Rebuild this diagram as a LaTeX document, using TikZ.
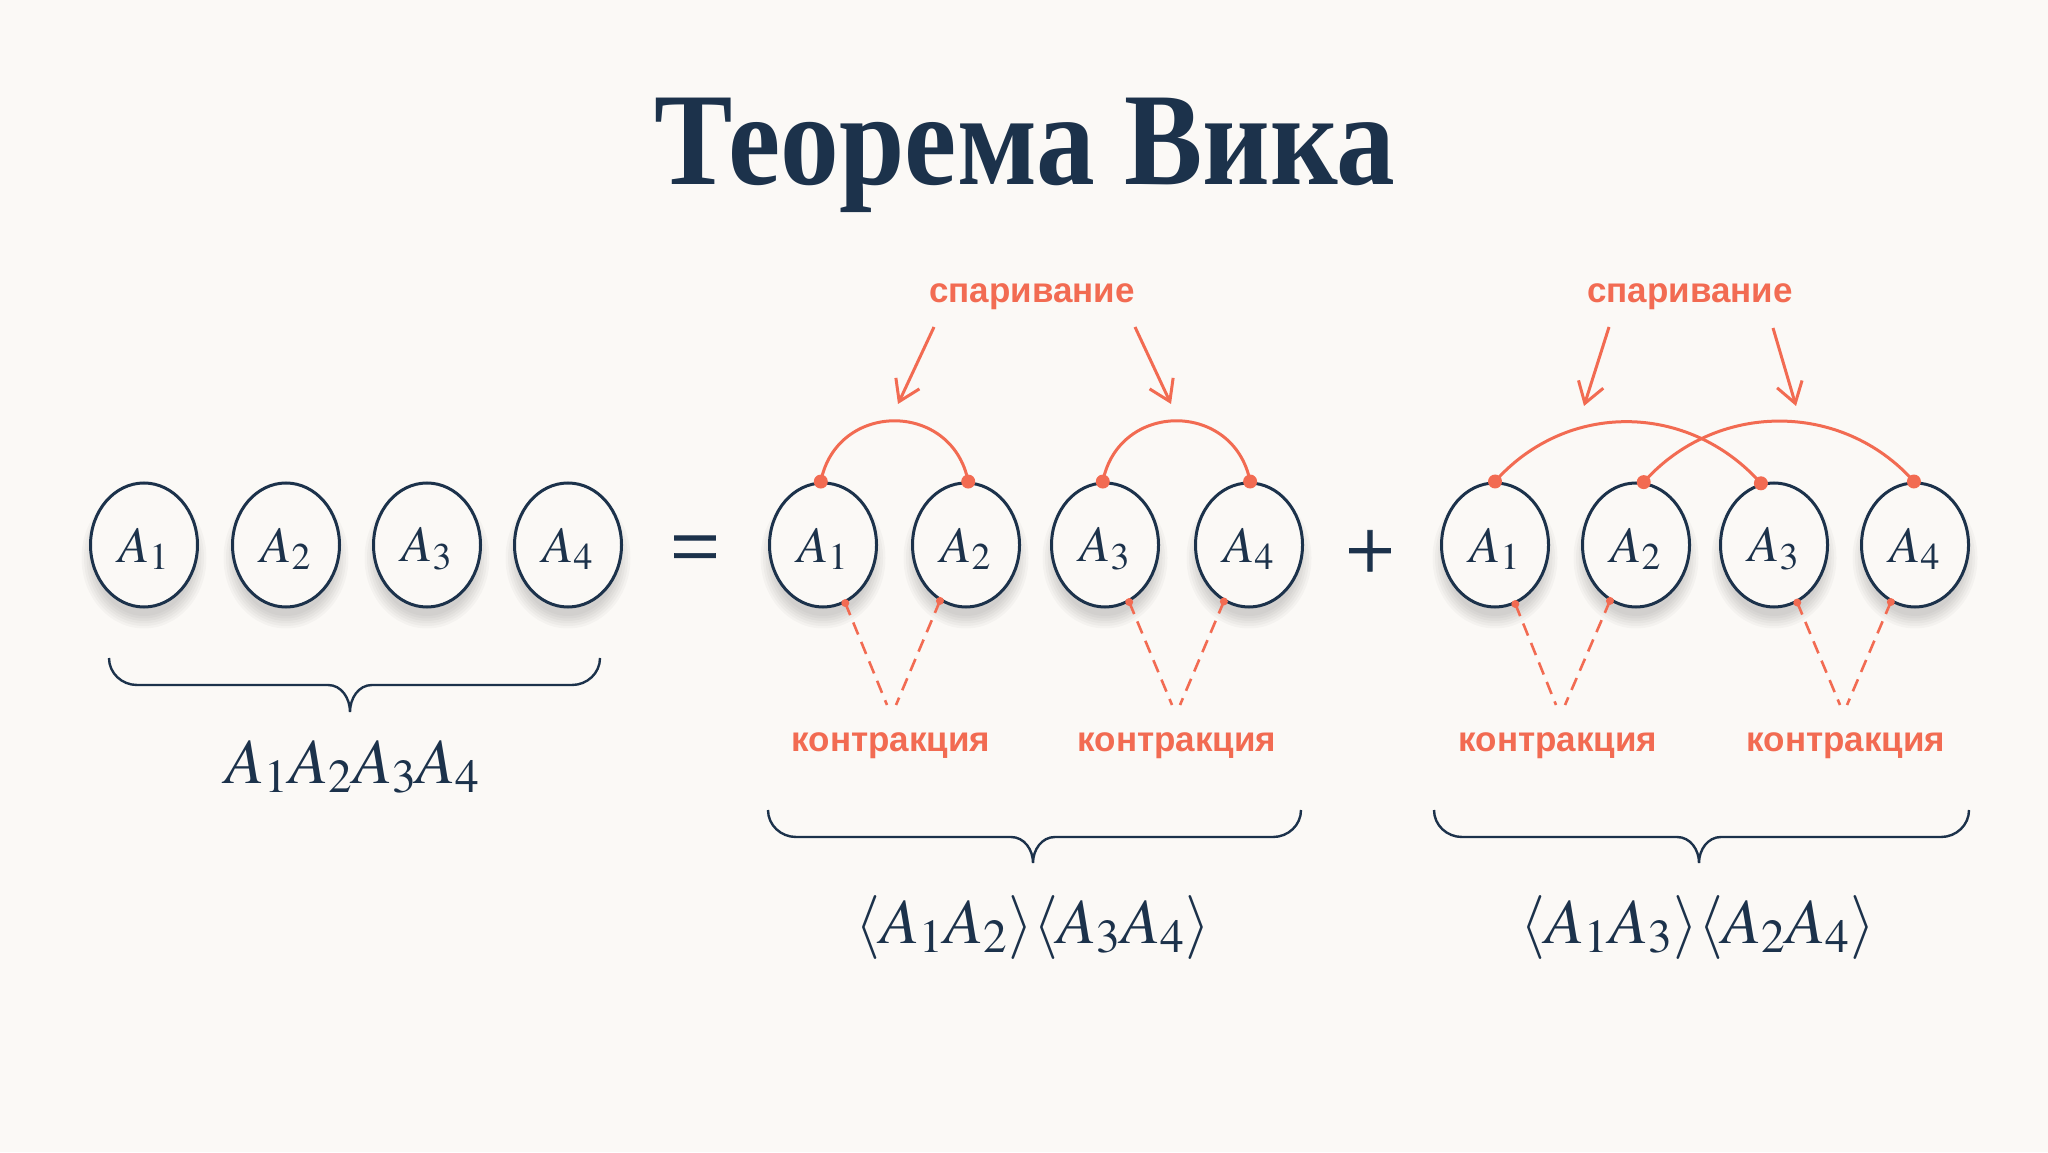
\documentclass[tikz,border=0pt]{standalone}
\usepackage{mathptmx}
\usepackage[no-math]{fontspec}
\setmainfont{Liberation Serif}
\newfontfamily\lblfont{Liberation Sans}
\newfontfamily\titlefont{Liberation Serif}[FakeStretch=0.89]
\newfontfamily\opfont{Liberation Serif}[FakeBold=0.8]
\usetikzlibrary{arrows.meta,shapes.geometric}
\definecolor{navy}{HTML}{1C324B}
\definecolor{coral}{HTML}{F26B52}
\definecolor{bg}{HTML}{FBF9F6}
\newcommand\wickbrace[6]{%
  \draw[brace] (#1,#4) to[out=-90,in=180] ({#1+28},#5) -- ({#2-22},#5)
    to[out=0,in=90] (#2,#6) to[out=90,in=180] ({#2+22},#5) -- ({#3-28},#5)
    to[out=0,in=-90] (#3,#4);}
\begin{document}
\begin{tikzpicture}[x=0.5pt,y=0.5pt,
  op/.style={ellipse, draw=navy, line width=1.5pt, fill=bg, minimum width=53.5pt,
    minimum height=62pt, inner sep=0pt, text=navy, font=\fontsize{25.5}{25.5}\selectfont},
  oplabel/.style={text=navy, font=\fontsize{25.5}{25.5}\selectfont, inner sep=0pt},
  pairarc/.style={coral, line width=1.5pt},
  pdot/.style={circle, fill=coral, inner sep=0pt, minimum size=7pt},
  cdot/.style={circle, fill=coral, inner sep=0pt, minimum size=4pt},
  contr/.style={coral, line width=1.3pt, dash pattern=on 6.5pt off 4pt},
  parr/.style={coral, line width=1.5pt, -{Straight Barb[length=10pt,width=13pt]}},
  lbl/.style={text=coral, font=\lblfont\bfseries\fontsize{17.5}{20}\selectfont, anchor=base, inner sep=0pt},
  brace/.style={navy, line width=1.2pt},
  mathlbl/.style={text=navy, font=\fontsize{32}{32}\selectfont, anchor=base, inner sep=0pt},
  opsign/.style={text=navy, font=\opfont\fontsize{44}{44}\selectfont, inner sep=0pt},
]
\fill[bg] (0,0) rectangle (2048,1152);
\useasboundingbox (0,0) rectangle (2048,1152);

% title
\node[anchor=base, text=navy, font=\titlefont\bfseries\fontsize{66}{66}\selectfont, inner sep=0pt]
  (title) at (1025,967) {Теорема Вика};

% shadows
\foreach \cx in {144,286,427,568,823,966,1105,1249,1495,1636,1774,1915}{
  \foreach \k in {0,...,5}{
    \fill[black,opacity=0.028] (\cx,594) ellipse ({50+\k*2.5} and {58+\k*2.5});
  }
}

% operators
\node[op] (l1) at (144,607) {};
\node[op] (l2) at (286,607) {};
\node[op] (l3) at (427,607) {};
\node[op] (l4) at (568,607) {};
\node[op] (m1) at (823,607) {};
\node[op] (m2) at (966,607) {};
\node[op] (m3) at (1105,607) {};
\node[op] (m4) at (1249,607) {};
\node[op] (r1) at (1495,607) {};
\node[op] (r2) at (1636,607) {};
\node[op] (r3) at (1774,607) {};
\node[op] (r4) at (1915,607) {};
\foreach \g in {l,m,r}{
  \foreach \i in {1,...,4}{
    \node[oplabel] (t\g\i) at ([yshift=-2pt]\g\i.center) {$A_\i$};
  }
}
\node[opsign, anchor=base] (eq) at (695,576) {=};
\node[opsign, anchor=base] (plus) at (1370,572) {+};

% pairing points
\coordinate (pm1) at (m1.92);
\coordinate (pm2) at (m2.88);
\coordinate (pm3) at (m3.92);
\coordinate (pm4) at (m4.89);
\coordinate (pr1) at (r1.90);
\coordinate (pr2) at (r2.83);
\coordinate (pr3) at (r3.102);
\coordinate (pr4) at (r4.91);

\draw[pairarc] (pm1) .. controls +(16,81) and +(-16,81) .. (pm2);
\draw[pairarc] (pm3) .. controls +(16,81) and +(-16,81) .. (pm4);
\draw[pairarc] (pr1) .. controls +(72,81) and +(-72,81) .. (pr3);
\draw[pairarc] (pr2) .. controls +(72,81) and +(-72,81) .. (pr4);
\foreach \p in {pm1,pm2,pm3,pm4,pr1,pr2,pr3,pr4}{\node[pdot] at (\p) {};}

% pairing labels and arrows
\node[lbl] (sp1) at (1032,849) {спаривание};
\node[lbl] (sp2) at (1690,849) {спаривание};
\coordinate (a1s) at (934,825); \coordinate (a1e) at (898,748);
\coordinate (a2s) at (1135,825); \coordinate (a2e) at (1171,748);
\coordinate (a3s) at (1609,825); \coordinate (a3e) at (1584,746);
\coordinate (a4s) at (1773,824); \coordinate (a4e) at (1796,746);
\draw[parr] (a1s) -- (a1e);
\draw[parr] (a2s) -- (a2e);
\draw[parr] (a3s) -- (a3e);
\draw[parr] (a4s) -- (a4e);

% contraction lines
\coordinate (cm1) at (887,447); \coordinate (cm2) at (896,447);
\coordinate (cm3) at (1172,447); \coordinate (cm4) at (1180,447);
\coordinate (cr1) at (1556,447); \coordinate (cr2) at (1565,447);
\coordinate (cr3) at (1840,447); \coordinate (cr4) at (1847,447);
\coordinate (qm1) at (m1.-69); \coordinate (qm2) at (m2.-115);
\coordinate (qm3) at (m3.-67); \coordinate (qm4) at (m4.-114);
\coordinate (qr1) at (r1.-71); \coordinate (qr2) at (r2.-115);
\coordinate (qr3) at (r3.-68); \coordinate (qr4) at (r4.-113);
\draw[contr] (qm1) -- (cm1);
\draw[contr] (qm2) -- (cm2);
\draw[contr] (qm3) -- (cm3);
\draw[contr] (qm4) -- (cm4);
\draw[contr] (qr1) -- (cr1);
\draw[contr] (qr2) -- (cr2);
\draw[contr] (qr3) -- (cr3);
\draw[contr] (qr4) -- (cr4);
\foreach \p in {qm1,qm2,qm3,qm4,qr1,qr2,qr3,qr4}{\node[cdot] at (\p) {};}

\node[lbl] (k1) at (891,401) {контракция};
\node[lbl] (k2) at (1177,401) {контракция};
\node[lbl] (k3) at (1558,401) {контракция};
\node[lbl] (k4) at (1846,401) {контракция};

% braces
\wickbrace{109}{350}{600}{494}{467}{440}
\wickbrace{768}{1033}{1301}{342}{315}{289}
\wickbrace{1434}{1699}{1969}{342}{315}{289}

\node[mathlbl] (e1) at (353,369) {$A_1A_2A_3A_4$};
\node[mathlbl] (e2) at (1033,209) {$\langle A_1A_2\rangle\langle A_3A_4\rangle$};
\node[mathlbl] (e3) at (1698,209) {$\langle A_1A_3\rangle\langle A_2A_4\rangle$};
\end{tikzpicture}
\end{document}
